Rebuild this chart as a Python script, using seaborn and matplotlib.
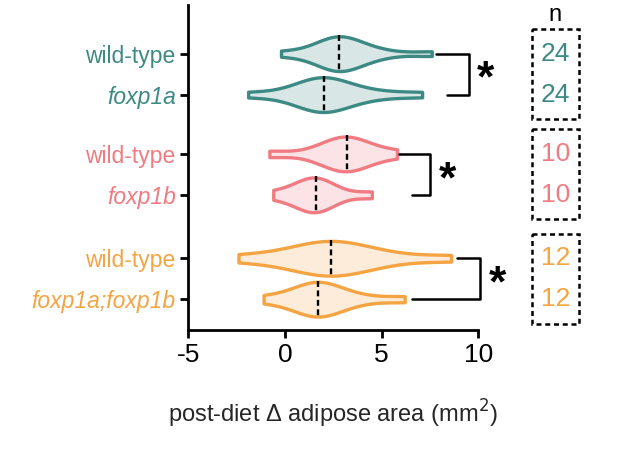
import matplotlib
matplotlib.use("Agg")
import matplotlib.pyplot as plt
import seaborn as sns
import pandas as pd
import numpy as np
from matplotlib.patches import Rectangle

# row labels (top to bottom) and hand-read sample values per row
labels = ['wild-type', 'foxp1a', 'wild-type', 'foxp1b', 'wild-type', 'foxp1a;foxp1b']
italic = [False, True, False, True, False, True]
ypos = [0, 1, 2.45, 3.45, 5.0, 6.0]
colors = ['#3d8a84', '#3d8a84', '#f07b82', '#f07b82', '#f5a443', '#f5a443']
vals = [
    [-0.2, 1.6, 2.2, 2.5, 2.7, 2.8, 2.9, 3.1, 3.4, 4.0, 5.0, 7.6],
    [-1.9, 0.4, 1.2, 1.6, 1.8, 2.0, 2.1, 2.3, 2.7, 3.5, 4.8, 7.1],
    [-0.8, 1.8, 2.5, 2.9, 3.2, 3.3, 3.6, 4.2, 5.8],
    [-0.6, 0.6, 1.0, 1.3, 1.6, 1.7, 2.0, 2.6, 4.5],
    [-2.4, 0.2, 1.2, 1.9, 2.4, 2.5, 3.0, 3.8, 5.2, 8.6],
    [-1.1, 0.6, 1.2, 1.5, 1.7, 1.8, 2.1, 2.6, 3.8, 6.2],
]
medians = [2.8, 2.0, 3.2, 1.6, 2.4, 1.7]
n_counts = ['24', '24', '10', '10', '12', '12']

rows = []
for i, v in enumerate(vals):
    for x in v:
        rows.append({'row': ypos[i], 'delta': x, 'id': i})
df = pd.DataFrame(rows)

sns.set_style('ticks')
plt.rcParams['font.family'] = ['Arial', 'Liberation Sans', 'DejaVu Sans']
plt.rcParams['axes.unicode_minus'] = False
plt.rcParams['text.color'] = 'black'
plt.rcParams['xtick.color'] = 'black'
plt.rcParams['ytick.color'] = 'black'
plt.rcParams['axes.edgecolor'] = 'black'
fig = plt.figure(figsize=(6.17, 4.55), dpi=100)
ax = fig.add_axes([0.305, 0.275, 0.47, 0.715])

sns.violinplot(data=df, x='delta', y='row', hue='id', orient='h', native_scale=True,
               palette=colors, cut=0, inner=None, width=0.85, linewidth=2.4,
               density_norm='width', legend=False, ax=ax, dodge=False, bw_adjust=0.9)
for c, coll in zip(colors, ax.collections):
    coll.set_facecolor(matplotlib.colors.to_rgba(c, 0.2))
    coll.set_edgecolor(c)

for y, m in zip(ypos, medians):
    ax.plot([m, m], [y - 0.45, y + 0.45], ls='--', color='black', lw=1.7, dashes=(2.5, 1.5))

ax.set_xlim(-5, 10)
ax.set_ylim(6.75, -1.2)
ax.set_xticks([-5, 0, 5, 10])
ax.set_yticks(ypos)
ax.set_yticklabels(labels)
for t, c, it in zip(ax.get_yticklabels(), colors, italic):
    t.set_color(c)
    if it:
        t.set_style('italic')
ax.tick_params(axis='y', length=6, width=2, labelsize=16.5, pad=3)
ax.tick_params(axis='x', length=6, width=2, labelsize=19)
for s in ['top', 'right']:
    ax.spines[s].set_visible(False)
for s in ['left', 'bottom']:
    ax.spines[s].set_linewidth(2)
ax.set_ylabel('')
ax.set_xlabel('post-diet \u0394 adipose area (mm$^2$)', fontsize=17, labelpad=22)

# significance brackets
brackets = [(0, 1, 7.8, 8.4, 9.5), (2.45, 3.45, 5.9, 6.6, 7.5), (5.0, 6.0, 8.9, 6.6, 10.1)]
for y1, y2, x1, x2, xb in brackets:
    ax.plot([x1, xb, xb, x2], [y1, y1, y2, y2], color='black', lw=1.8, clip_on=False)
    ax.text(xb + 0.45, (y1 + y2) / 2 + 0.15, '*', fontsize=32, fontweight='bold',
            ha='left', va='center', clip_on=False)

# n boxes
ax.text(13.95, -0.95, 'n', fontsize=17, ha='center', va='center', clip_on=False)
for g in range(3):
    y1, y2 = ypos[2 * g], ypos[2 * g + 1]
    r = Rectangle((12.8, y1 - 0.6), 2.4, (y2 - y1) + 1.2, fill=False, ls=(0, (2, 1.5)),
                  lw=1.8, ec='black', clip_on=False)
    ax.add_patch(r)
    for y, k in [(y1, 2 * g), (y2, 2 * g + 1)]:
        ax.text(14.0, y, n_counts[k], color=colors[k], fontsize=19, ha='center',
                va='center', clip_on=False)

fig.savefig('out.png', dpi=100)
